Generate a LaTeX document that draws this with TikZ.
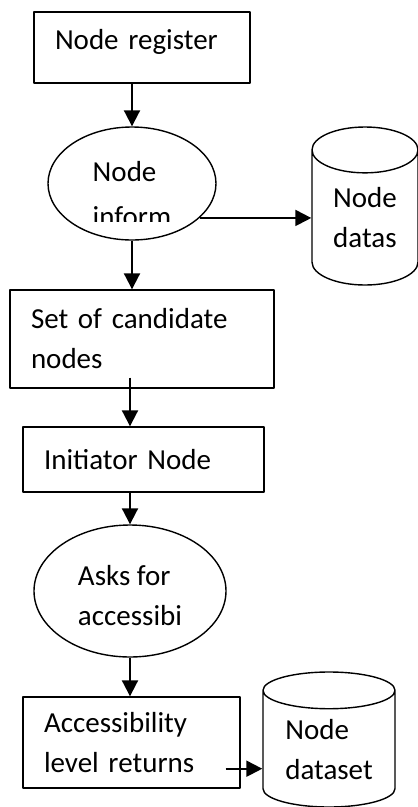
\documentclass[tikz,border=0pt]{standalone}
\usepackage{fontspec}
\usepackage{trimclip}
\setmainfont{Carlito}
\usetikzlibrary{arrows.meta,shapes.geometric,calc}

\begin{document}
\begin{tikzpicture}[x=1pt, y=-1pt, font=\fontsize{29}{40}\selectfont, line join=round,
    >={Triangle[length=16pt,width=16pt]},
    stepbox/.style={draw, line width=1.4pt, rectangle, inner xsep=21pt, inner ysep=0pt, align=left},
    oval/.style={draw, line width=1.4pt, ellipse, inner sep=0pt, align=left},
    store/.style={draw, line width=1.4pt, cylinder, shape border rotate=90, inner sep=0pt, align=left, anchor=shape center},
    flow/.style={->, line width=2pt}]
    \useasboundingbox (0,0) rectangle (418,807);
    % boxes, ovals and stores
    \node[stepbox, minimum height=71pt, text width=174pt, text depth=17pt] (reg) at (142,47.5) {Node register};
    \node[oval, minimum width=168pt, minimum height=113pt] (info) at (132,183.5) {\rule{0pt}{36pt}Node\\\clipbox{0pt 5pt 0pt 0pt}{inform}};
    \node[store, minimum width=106pt, minimum height=158pt, aspect=0.72] (datas) at (365,206) {Node\\datas};
    \node[stepbox, minimum height=98pt, text width=222pt] (cand) at (142,339) {Set of candidate\\nodes};
    \node[stepbox, minimum height=65pt, text width=199pt] (init) at (143.5,459.5) {Initiator Node};
    \node[oval, minimum width=192pt, minimum height=132pt] (asks) at (130,591) {\rule{0pt}{30pt}Asks for\\accessibi};
    \node[stepbox, minimum height=91pt, text width=175pt] (acc) at (131.5,742.5) {Accessibility\\level returns};
    \node[store, minimum width=132pt, minimum height=135pt, aspect=0.42] (dataset) at (329,739.5) {Node\\dataset};
    % arrows
    \draw[flow] (reg.south -| info.north) -- (info.north);
    \draw[flow] (info.-27) -- (info.-27 -| datas.west);
    \draw[flow] (info.south) -- (info.south |- cand.north);
    \draw[flow] ($(cand.south -| asks.north)+(0,-11)$) -- (init.north -| asks.north);
    \draw[flow] (init.south -| asks.north) -- (asks.north);
    \draw[flow] (asks.south) -- (asks.south |- acc.north);
    \coordinate (ret) at ($(acc.south east)+(-15,-20)$);
    \draw[flow] (ret) -- (ret -| dataset.west);
\end{tikzpicture}
\end{document}
